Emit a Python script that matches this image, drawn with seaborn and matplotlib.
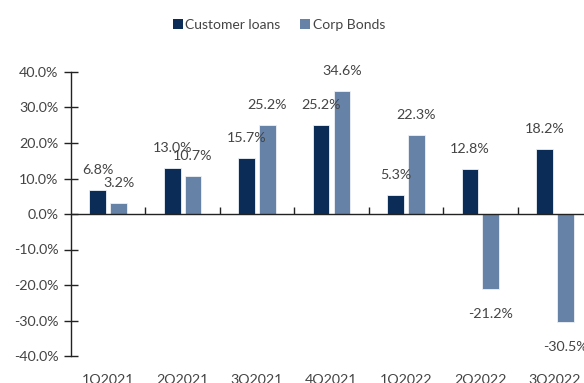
import matplotlib
matplotlib.use("Agg")
import matplotlib.pyplot as plt
import seaborn as sns
import pandas as pd
from matplotlib.ticker import FuncFormatter

quarters = ["1Q2021", "2Q2021", "3Q2021", "4Q2021", "1Q2022", "2Q2022", "3Q2022"]
customer_loans = [6.8, 13.0, 15.7, 25.2, 5.3, 12.8, 18.2]
corp_bonds = [3.2, 10.7, 25.2, 34.6, 22.3, -21.2, -30.5]
series_names = ["Customer loans", "Corp Bonds"]
colors = ["#0B2C56", "#6782A7"]
yticks = [-40, -30, -20, -10, 0, 10, 20, 30, 40]

df = pd.DataFrame({
    "quarter": quarters * 2,
    "value": customer_loans + corp_bonds,
    "series": [series_names[0]] * len(quarters) + [series_names[1]] * len(quarters),
})

sns.set_theme(style="white")
plt.rcParams["font.family"] = ["Lato", "DejaVu Sans"]
text_color = "#444444"
fs = 10.3

fig = plt.figure(figsize=(5.84, 3.83), dpi=100)
ax = fig.add_axes([71 / 584, 27 / 383, 1 - 71 / 584, (356 - 72) / 383])

sns.barplot(data=df, x="quarter", y="value", hue="series", order=quarters,
            hue_order=series_names, palette=colors, saturation=1, width=0.56, gap=0.2,
            edgecolor="#eef2f7", linewidth=0.6, ax=ax, legend=False)

ax.set_xlim(-0.5, 6.5 - 8 / 74.5)
ax.set_ylim(-40, 40)
ax.set_yticks(yticks)
ax.yaxis.set_major_formatter(FuncFormatter(lambda v, p: f"{v:.1f}%"))
ax.set_xlabel("")
ax.set_ylabel("")

for s in ["top", "right", "bottom"]:
    ax.spines[s].set_visible(False)
ax.spines["left"].set_color("#222222")
ax.spines["left"].set_linewidth(1.0)

ax.tick_params(axis="y", direction="inout", length=10, width=1.0, color="#222222",
               labelsize=fs, labelcolor=text_color, pad=4, left=True)
ax.tick_params(axis="x", length=0, labelsize=fs, labelcolor=text_color, pad=13)

ax.axhline(0, color="#222222", linewidth=1.0, zorder=3)
sec = ax.secondary_xaxis(0.5)
sec.set_alignment("bottom")
sec.set_xticks([0.5, 1.5, 2.5, 3.5, 4.5, 5.5])
sec.tick_params(direction="in", length=5, width=1.0, color="#222222",
                labelbottom=False, labeltop=False)
for s in ["top", "left", "right", "bottom"]:
    if s in sec.spines:
        sec.spines[s].set_visible(False)

for cont in ax.containers:
    for bar in cont:
        h = bar.get_height()
        xc = bar.get_x() + bar.get_width() / 2
        if h >= 0:
            ax.annotate(f"{h:.1f}%", (xc, h), xytext=(0, 14.4), textcoords="offset points",
                        ha="center", va="center", fontsize=fs, color=text_color)
        else:
            ax.annotate(f"{h:.1f}%", (xc, h), xytext=(0, -17.6), textcoords="offset points",
                        ha="center", va="center", fontsize=fs, color=text_color)

handles = [plt.Rectangle((0, 0), 1, 1, facecolor=c, edgecolor="none") for c in colors]
fig.legend(handles, series_names, loc="center", bbox_to_anchor=(279 / 584, 1 - 25 / 383),
           ncol=2, frameon=False, fontsize=10, handlelength=0.72, handleheight=0.72,
           handletextpad=0.2, columnspacing=1.4, labelcolor=text_color)

fig.savefig("out.png", dpi=100)
